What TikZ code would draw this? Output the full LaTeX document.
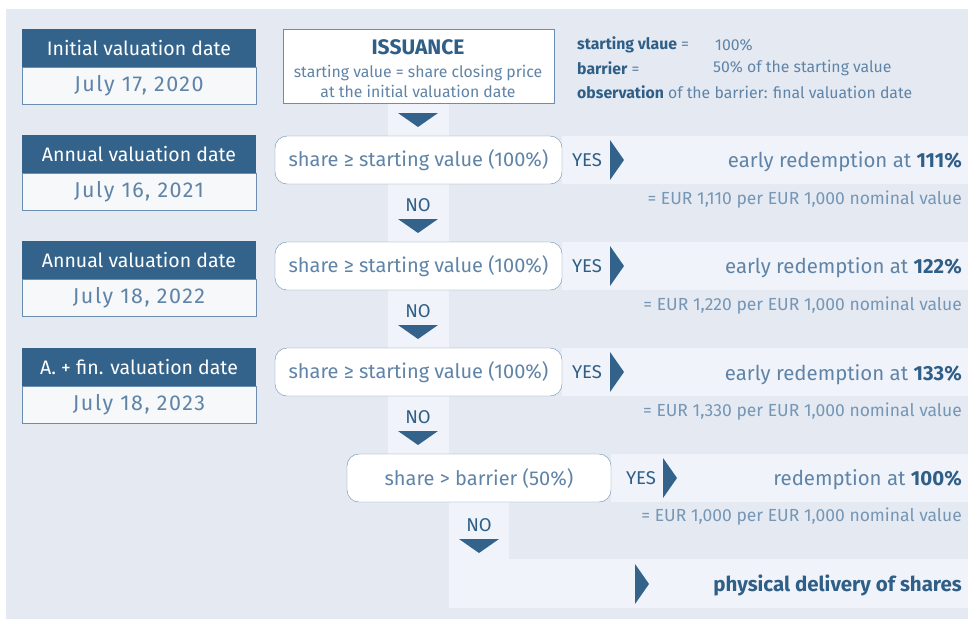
\documentclass[tikz,border=0pt]{standalone}
\usepackage{fontspec}
\setmainfont{Fira Sans}
\newfontfamily\widefont{Fira Sans}[LetterSpace=7]
\definecolor{panel}{HTML}{E5EAF2}
\definecolor{strip}{HTML}{F0F3F9}
\definecolor{navy}{HTML}{33638B}
\definecolor{datefill}{HTML}{F6F8FA}
\definecolor{edge}{HTML}{6A8DB0}
\definecolor{txt}{HTML}{5F84A8}
\definecolor{lighttxt}{HTML}{7596B5}
\definecolor{dark}{HTML}{2F5E87}
\newcommand{\downtri}[2]{\fill[navy] (#1-20,#2) -- (#1+20,#2) -- (#1,#2+14) -- cycle;}
\newcommand{\righttri}[2]{\fill[navy] (#1,#2-20) -- (#1+14,#2) -- (#1,#2+20) -- cycle;}
\begin{document}
\begin{tikzpicture}[x=1pt,y=-1pt,
  hdr/.style={fill=navy,text=white,minimum width=234pt,minimum height=38pt,inner sep=0pt,font=\fontsize{19.5}{22}\selectfont},
  datebox/.style={draw=edge,fill=datefill,text=txt,minimum width=234pt,minimum height=37pt,inner sep=0pt,font=\widefont\fontsize{21.5}{24}\selectfont},
  test/.style={draw=edge,fill=white,rounded corners=12pt,text=txt,minimum width=287pt,minimum height=48pt,inner sep=0pt,font=\fontsize{20}{23}\selectfont},
  big/.style={text=txt,inner sep=0pt,font=\fontsize{20.4}{23}\selectfont},
  small/.style={text=txt,inner sep=0pt,font=\fontsize{15.8}{20}\selectfont},
  eur/.style={text=lighttxt,inner sep=0pt,anchor=east,font=\fontsize{17.5}{20}\selectfont},
  yesno/.style={text=dark,inner sep=0pt,font=\fontsize{18.5}{20}\selectfont}]
\useasboundingbox (0,0) rectangle (968,619);
\fill[panel] (6,9) rectangle (968,619);

%light strips
\fill[strip] (388,103) rectangle (449,454);
\fill[strip] (449,502) rectangle (509,559);
\fill[strip] (449,559) rectangle (968,608);
\fill[strip] (562,136) rectangle (968,184);
\fill[strip] (562,242) rectangle (968,290);
\fill[strip] (562,348) rectangle (968,396);
\fill[strip] (611,454) rectangle (968,502);

%dates
\node (date1) at (139,85.5) [datebox] {July 17, 2020};
\node (hdr1) at (139,48) [hdr] {Initial valuation date};
\node (date2) at (139,191.5) [datebox] {July 16, 2021};
\node (hdr2) at (139,154) [hdr] {Annual valuation date};
\node (date3) at (139,297.5) [datebox] {July 18, 2022};
\node (hdr3) at (139,260) [hdr] {Annual valuation date};
\node (date4) at (139,404.5) [datebox] {July 18, 2023};
\node (hdr4) at (139,367) [hdr] {A. + fin. valuation date};

%issuance
\node (iss) at (418.5,66) [draw=edge,fill=white,minimum width=271pt,minimum height=74pt] {};
\node (isstitle) at (418,47) [text=dark,font=\bfseries\fontsize{21}{24}\selectfont] {ISSUANCE};
\node (isstext) at (418,81) [small,align=center] {starting value = share closing price\\at the initial valuation date};
\downtri{418}{113}

%notes
\node (note1) at (577,45) [small,anchor=west] {\textcolor{dark}{\textbf{starting vlaue}} =};
\node (note1v) at (715,45) [small,anchor=west] {100\%};
\node (note2) at (577,68) [small,anchor=west] {\textcolor{dark}{\textbf{barrier}} =};
\node (note2v) at (713,68) [small,anchor=west] {50\% of the starting value};
\node (note3) at (577,92) [small,anchor=west] {\textcolor{dark}{\textbf{observation}} of the barrier: final valuation date};

%first test
\node (test1) at (418.5,160) [test] {share ≥ starting value (100\%)};
\node (yes1) at (587,160) [yesno] {YES};
\righttri{610}{160}
\node (res1) at (962,162) [big,anchor=east] {early redemption at \textcolor{dark}{\textbf{111\%}}};
\node (eur1) at (962,200) [eur] {= EUR 1,110 per EUR 1,000 nominal value};
\node (no1) at (418,205) [yesno] {NO};
\downtri{418}{219}

%second test
\node (test2) at (418.5,266) [test] {share ≥ starting value (100\%)};
\node (yes2) at (587,266) [yesno] {YES};
\righttri{610}{266}
\node (res2) at (962,268) [big,anchor=east] {early redemption at \textcolor{dark}{\textbf{122\%}}};
\node (eur2) at (962,306) [eur] {= EUR 1,220 per EUR 1,000 nominal value};
\node (no2) at (418,311) [yesno] {NO};
\downtri{418}{325}

%third test
\node (test3) at (418.5,372) [test] {share ≥ starting value (100\%)};
\node (yes3) at (587,372) [yesno] {YES};
\righttri{610}{372}
\node (res3) at (962,375) [big,anchor=east] {early redemption at \textcolor{dark}{\textbf{133\%}}};
\node (eur3) at (962,412) [eur] {= EUR 1,330 per EUR 1,000 nominal value};
\node (no3) at (418,417) [yesno] {NO};
\downtri{418}{431}

%barrier
\node (test4) at (479,478) [test,minimum width=264pt] {share > barrier (50\%)};
\node (yes4) at (641,478) [yesno] {YES};
\righttri{663}{478}
\node (res4) at (962,480) [big,anchor=east] {redemption at \textcolor{dark}{\textbf{100\%}}};
\node (eur4) at (962,517) [eur] {= EUR 1,000 per EUR 1,000 nominal value};
\node (no4) at (479,525) [yesno] {NO};
\downtri{479}{539}
\righttri{635}{584}
\node (deliv) at (962,585) [big,anchor=east,text=dark,font=\bfseries\fontsize{20.5}{23}\selectfont] {physical delivery of shares};
\end{tikzpicture}
\end{document}
